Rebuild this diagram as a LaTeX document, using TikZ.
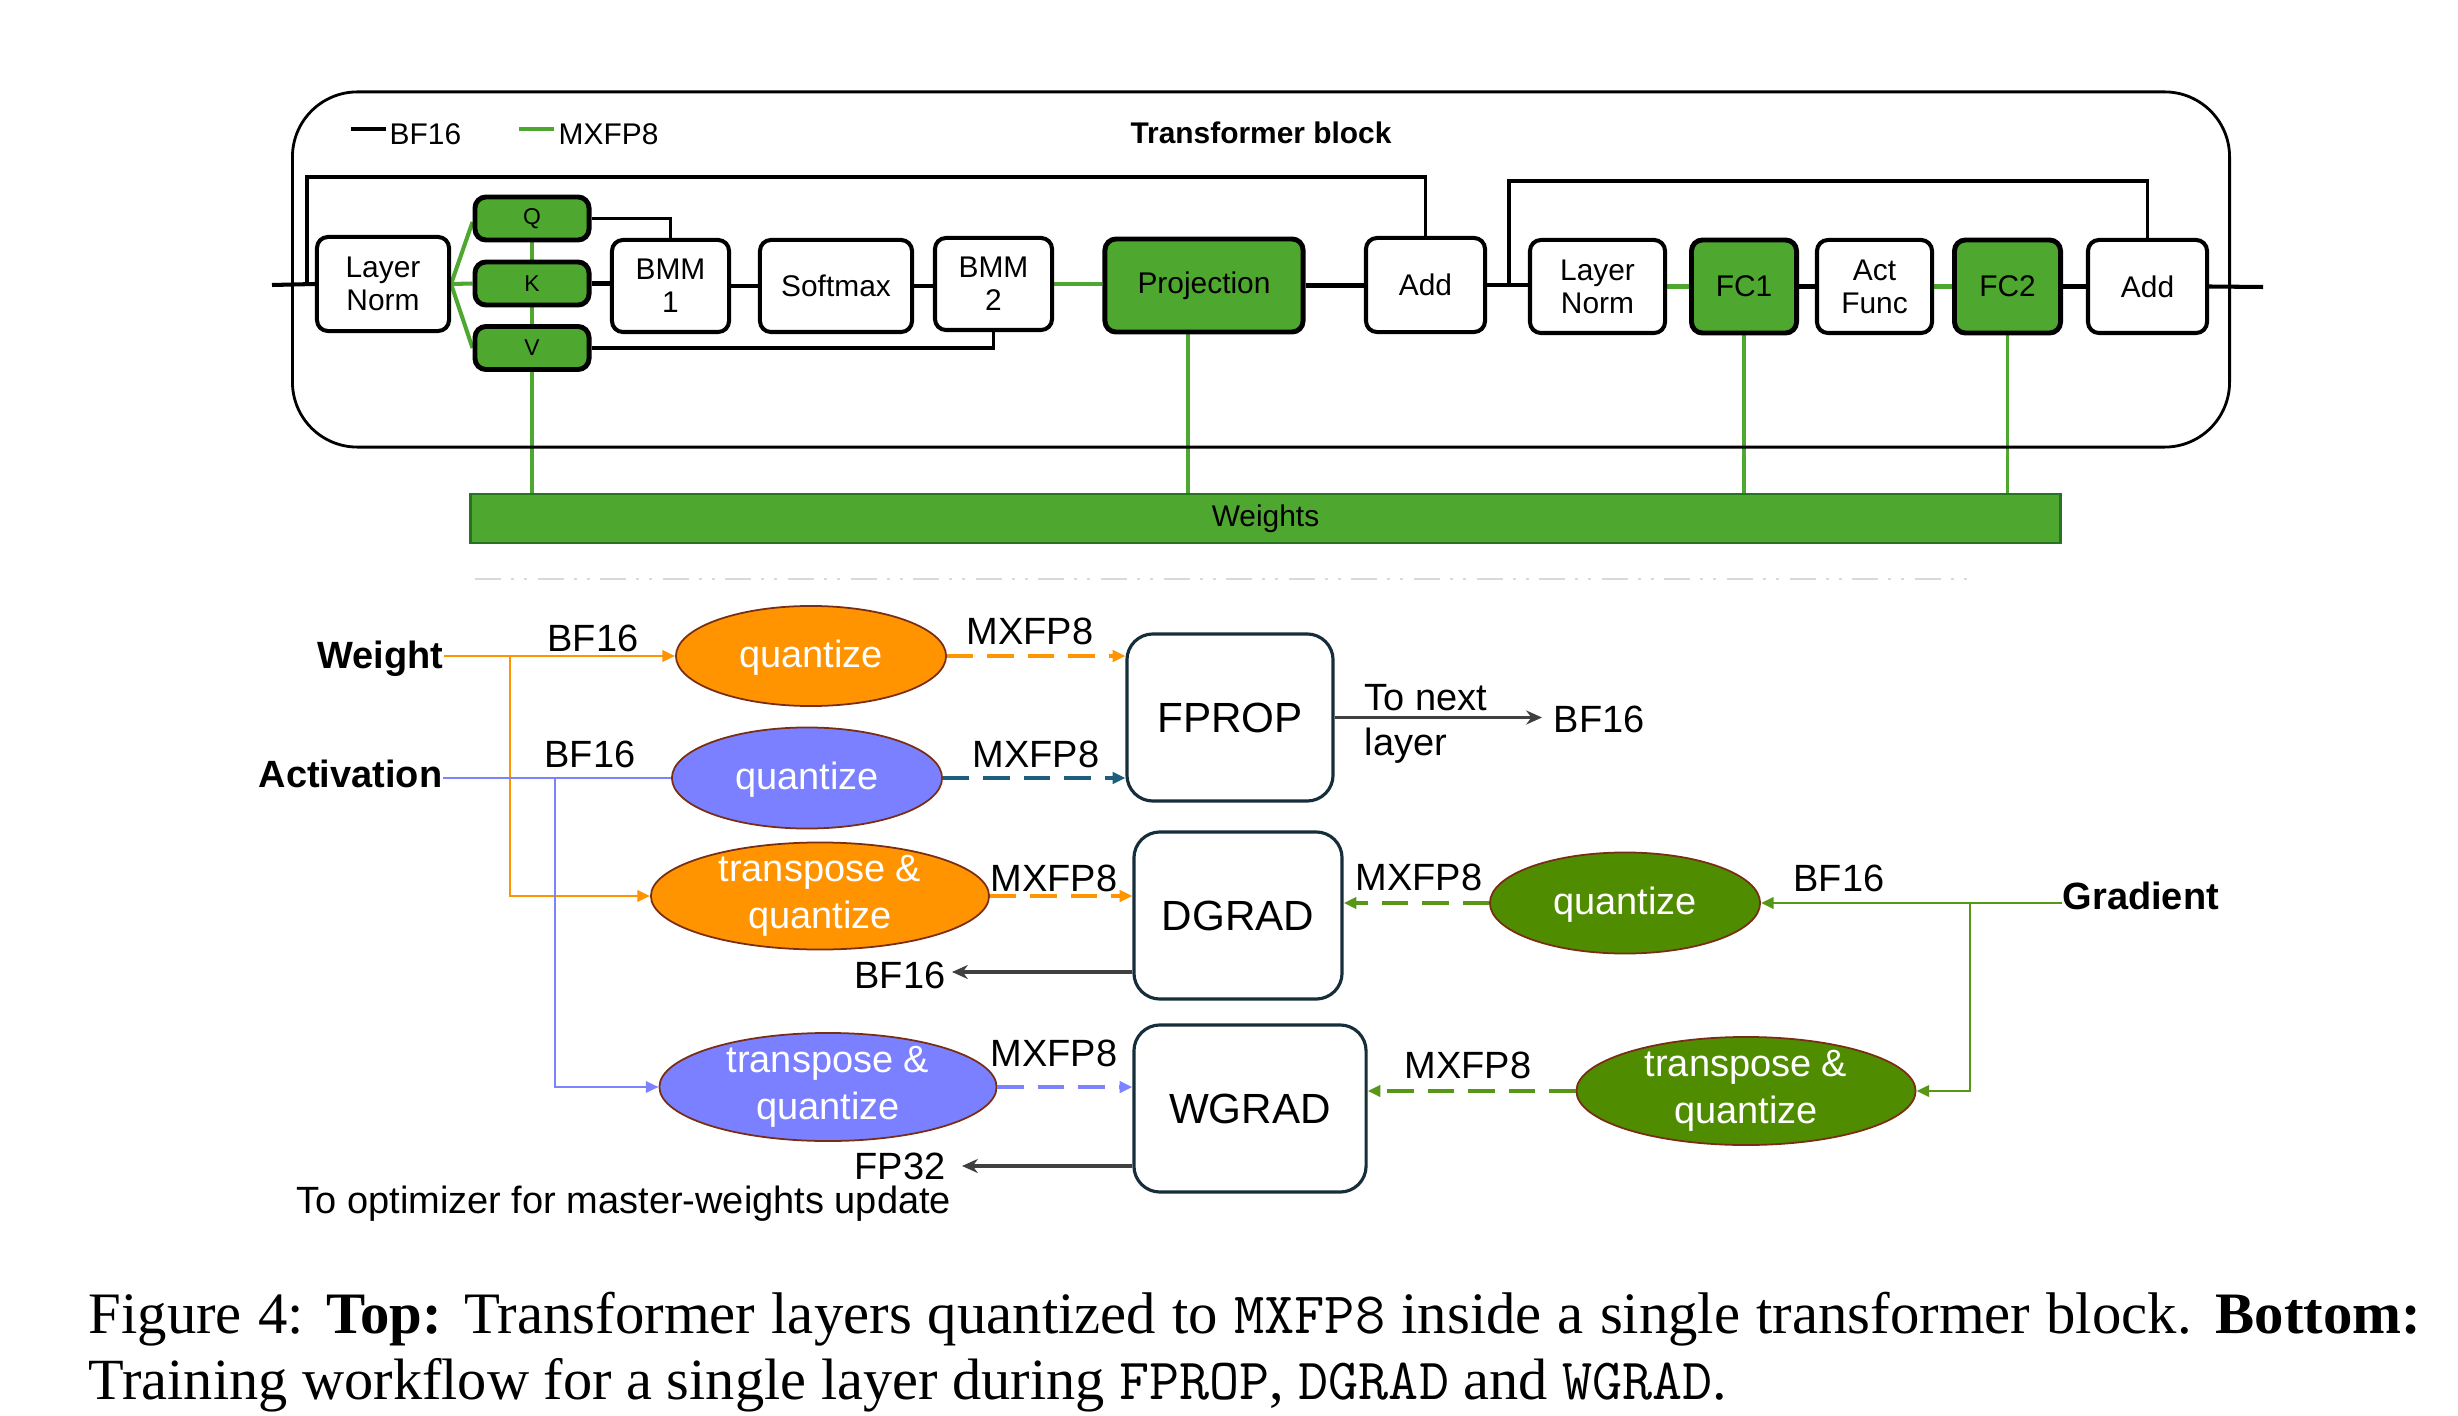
\documentclass[tikz,border=0pt]{standalone}
\usepackage{fontspec}
\setmainfont{Liberation Sans}
\newfontfamily\capserif{Liberation Serif}
\usetikzlibrary{shapes.geometric,arrows.meta}
\definecolor{tgreen}{RGB}{78,167,46}
\definecolor{wborder}{RGB}{40,115,35}
\definecolor{oran}{RGB}{255,147,0}
\definecolor{ebord}{RGB}{120,45,20}
\definecolor{bfill}{RGB}{122,128,255}
\definecolor{bln}{RGB}{125,130,255}
\definecolor{tealc}{RGB}{30,93,125}
\definecolor{gfill}{RGB}{80,140,0}
\definecolor{gln}{RGB}{88,150,22}
\definecolor{navyc}{RGB}{22,45,58}
\definecolor{darkg}{RGB}{64,64,64}
\definecolor{sepgray}{RGB}{217,217,217}
\pgfdeclarelayer{bg}
\pgfsetlayers{bg,main}
\begin{document}
\begin{tikzpicture}[x=0.01cm,y=-0.01cm,
  >={Triangle[length=3.6pt,width=3.2pt]},
  tbox/.style={draw=black,line width=1.15pt,fill=white,rounded corners=0.11cm,inner sep=0pt,align=center,font=\fontsize{8.5}{9.4}\selectfont},
  gbox/.style={tbox,fill=tgreen,line width=1.4pt},
  qbox/.style={gbox,minimum width=1.14cm,minimum height=0.43cm,font=\fontsize{6.5}{7}\selectfont},
  bk/.style={draw=black,line width=1.15pt},
  bk2/.style={draw=black,line width=0.95pt},
  gl/.style={draw=tgreen,line width=1.15pt},
  glv/.style={draw=tgreen,line width=0.9pt},
  lbl/.style={inner sep=0pt,font=\fontsize{10.8}{12.5}\selectfont},
  blbl/.style={lbl,font=\fontsize{10.8}{12.5}\selectfont\bfseries},
  ell/.style={ellipse,draw=ebord,line width=0.5pt,inner sep=0pt},
  etext/.style={inner sep=0pt,text=white,align=center,font=\fontsize{10.8}{13.4}\selectfont},
  opbox/.style={draw=navyc,line width=0.9pt,rounded corners=0.26cm,inner sep=0pt,minimum height=1.67cm,font=\fontsize{12}{14}\selectfont},
  oline/.style={draw=oran,line width=0.8pt},
  bline/.style={draw=bln,line width=0.7pt},
  gline/.style={draw=gln,line width=0.8pt},
  dsh/.style={line width=1pt,dash pattern=on 7.5pt off 4pt},
  outarr/.style={draw=darkg,line width=0.9pt,-{Stealth[length=4.5pt,width=4pt]}}
]
\useasboundingbox (0,0) rectangle (2458,1416);

%================ TOP =================
\node[draw=black,line width=0.8pt,rounded corners=0.65cm,minimum width=19.36cm,minimum height=3.55cm] (block) at (1261,269.5) {};

% legend
\coordinate (lgA) at (351,129);
\coordinate (lgB) at (386,129);
\coordinate (lgC) at (519,129);
\coordinate (lgD) at (554,129);
\draw[bk] (lgA) -- (lgB);
\draw[gl] (lgC) -- (lgD);
\node[inner sep=0pt,anchor=west,font=\fontsize{8.5}{10}\selectfont] (lgbf) at (389,134) {BF16};
\node[inner sep=0pt,anchor=west,font=\fontsize{8.5}{10}\selectfont] (lgmx) at (558,134) {MXFP8};
\node[inner sep=0pt,font=\fontsize{8.5}{10}\selectfont\bfseries] (title) at (1261,133) {Transformer block};

% boxes
\node[tbox,minimum width=1.32cm,minimum height=0.94cm] (ln1) at (383,284) {Layer\\Norm};
\node[qbox] (q) at (532,218.5) {Q};
\node[qbox] (k) at (532,283.5) {K};
\node[qbox] (v) at (532,348) {V};
\node[tbox,minimum width=1.17cm,minimum height=0.92cm] (bmm1) at (670.5,286) {BMM\\1};
\node[tbox,minimum width=1.52cm,minimum height=0.92cm] (soft) at (836,286) {Softmax};
\node[tbox,minimum width=1.17cm,minimum height=0.92cm] (bmm2) at (993.5,284) {BMM\\2};
\node[gbox,minimum width=1.98cm,minimum height=0.93cm] (proj) at (1204,285.5) {Projection};
\node[tbox,minimum width=1.19cm,minimum height=0.94cm] (add1) at (1425.5,285) {Add};
\node[tbox,minimum width=1.35cm,minimum height=0.93cm] (ln2) at (1597.5,286.5) {Layer\\Norm};
\node[gbox,minimum width=1.05cm,minimum height=0.93cm] (fc1) at (1744,286.5) {FC1};
\node[tbox,minimum width=1.15cm,minimum height=0.93cm] (act) at (1874.5,286.5) {Act\\Func};
\node[gbox,minimum width=1.06cm,minimum height=0.93cm] (fc2) at (2007.5,286.5) {FC2};
\node[tbox,minimum width=1.19cm,minimum height=0.93cm] (add2) at (2147.5,286.5) {Add};

\node[draw=wborder,fill=tgreen,line width=0.8pt,minimum width=15.89cm,minimum height=0.49cm,inner sep=0pt,font=\fontsize{8.5}{10}\selectfont] (wts) at (1265.5,518.5) {Weights};

\coordinate (in) at (272,285);
\coordinate (out) at (2263,287);
\coordinate (r1) at (307,285);
\coordinate (r1top) at (307,177);
\coordinate (r2) at (1509,286.5);
\coordinate (r2top) at (1509,181);
\coordinate (pv) at (1188,0);

\begin{pgfonlayer}{bg}
\draw[bk] (in) -- (ln1.west);
\draw[bk2] (r1) -- (r1top) -| (add1.north);
\draw[gl] (ln1.east) -- ([yshift=-1pt]q.west);
\draw[gl] (ln1.east) -- (k.west);
\draw[gl] (ln1.east) -- (v.west);
\draw[bk2] (q.east) -| (bmm1.north);
\draw[bk] (k.east) -- (k.east -| bmm1.west);
\draw[bk2] (v.east) -| (bmm2.south);
\draw[bk] (bmm1.east) -- (soft.west);
\draw[bk] (soft.east) -- (soft.east -| bmm2.west);
\draw[gl] (bmm2.east) -- (bmm2.east -| proj.west);
\draw[bk] (proj.east) -- (proj.east -| add1.west);
\draw[bk] (add1.east) -- (add1.east -| ln2.west);
\draw[bk2] (r2) -- (r2top) -| (add2.north);
\draw[gl] (ln2.east) -- (fc1.west);
\draw[bk] (fc1.east) -- (act.west);
\draw[gl] (act.east) -- (fc2.west);
\draw[bk] (fc2.east) -- (add2.west);
\draw[bk] (add2.east) -- (out);
\draw[glv] (q.south) -- (q.south |- wts.north);
\draw[glv] (pv |- proj.south) -- (pv |- wts.north);
\draw[glv] (fc1.south) -- (fc1.south |- wts.north);
\draw[glv] (fc2.south) -- (fc2.south |- wts.north);
\end{pgfonlayer}

% separator
\coordinate (sepL) at (475,579);
\coordinate (sepR) at (1969,579);
\draw[sepgray,line width=0.8pt,dash pattern=on 7.4pt off 2.85pt on 0.85pt off 2.85pt on 0.85pt off 3pt] (sepL) -- (sepR);

%================ BOTTOM =================
\node[ell,fill=oran,minimum width=2.70cm,minimum height=1.00cm] (wq) at (811,656) {};
\node[etext] (wqt) at ([yshift=-0.5pt]wq.center) {quantize};
\node[ell,fill=bfill,minimum width=2.70cm,minimum height=1.01cm] (aq) at (807,778) {};
\node[etext] (aqt) at ([yshift=-0.5pt]aq.center) {quantize};
\node[ell,fill=oran,minimum width=3.38cm,minimum height=1.07cm] (wt) at (820,896) {};
\node[etext] (wtt) at (wt) {transpose \&\\quantize};
\node[ell,fill=bfill,minimum width=3.37cm,minimum height=1.08cm] (at) at (828,1087) {};
\node[etext] (att) at (at) {transpose \&\\quantize};
\node[ell,fill=gfill,minimum width=2.70cm,minimum height=1.01cm] (gq) at (1625,903) {};
\node[etext] (gqt) at ([yshift=-0.5pt]gq.center) {quantize};
\node[ell,fill=gfill,minimum width=3.39cm,minimum height=1.08cm] (gt) at (1746,1091) {};
\node[etext] (gtt) at (gt) {transpose \&\\quantize};

\node[opbox,minimum width=2.06cm] (fprop) at (1230,717.5) {FPROP};
\node[opbox,minimum width=2.08cm] (dgrad) at (1238,915.5) {DGRAD};
\node[opbox,minimum width=2.32cm] (wgrad) at (1250,1108.5) {WGRAD};

\node[blbl,anchor=base east] (weight) at (444,669) {Weight};
\node[blbl,anchor=base east] (activ) at (443,787) {Activation};
\node[blbl,anchor=base west] (grad) at (2062,909) {Gradient};

\node[lbl,anchor=base] (bfw) at (593,651) {BF16};
\node[lbl,anchor=base] (bfa) at (590,767) {BF16};
\node[lbl,anchor=base] (bfg) at (1839,891) {BF16};
\node[lbl,anchor=base] (mx1) at (1030,645) {MXFP8};
\node[lbl,anchor=base] (mx2) at (1036,767) {MXFP8};
\node[lbl,anchor=base] (mx3) at (1054,891) {MXFP8};
\node[lbl,anchor=base] (mx4) at (1054,1066) {MXFP8};
\node[lbl,anchor=base] (mx5) at (1419,890) {MXFP8};
\node[lbl,anchor=base] (mx6) at (1468,1078) {MXFP8};
\node[lbl,anchor=base west] (tn1) at (1364,710) {To next};
\node[lbl,anchor=base west] (tn2) at (1364,755) {layer};
\node[lbl,anchor=base west] (bfo) at (1553,732) {BF16};
\node[lbl,anchor=base east] (bfd) at (946,988) {BF16};
\node[lbl,anchor=base east] (fp32) at (946,1179) {FP32};
\node[lbl,anchor=base west] (topt) at (296,1213) {To optimizer for master-weights update};

\coordinate (wb) at (510,656);
\coordinate (ab) at (555,778);
\coordinate (gb) at (1970,903);
\coordinate (fo) at (1542,717.5);
\coordinate (dout) at (952,972);
\coordinate (wout) at (962,1166);

\begin{pgfonlayer}{bg}
\draw[oline,->] (weight.east |- wq.west) -- (wq.west);
\draw[oline,->] (wb) |- (wt.west);
\draw[bline] (activ.east |- aq.west) -- (aq.west);
\draw[bline,->] (ab) |- (at.west);
\draw[gline,->] (grad.west |- gq.east) -- (gq.east);
\draw[gline,->] (gb) |- (gt.east);
\end{pgfonlayer}

\draw[oran,dsh,->] (wq.east) -- (wq.east -| fprop.west);
\draw[tealc,dsh,->] (aq.east) -- (aq.east -| fprop.west);
\draw[oran,dsh,->] (wt.east) -- (wt.east -| dgrad.west);
\draw[bln,dsh,->] (at.east) -- (at.east -| wgrad.west);
\draw[gln,dsh,->] (gq.west) -- (gq.west -| dgrad.east);
\draw[gln,dsh,->] (gt.west) -- (gt.west -| wgrad.east);

\draw[outarr] (fprop.east) -- (fo);
\draw[outarr] (dout -| dgrad.west) -- (dout);
\draw[outarr] (wout -| wgrad.west) -- (wout);

%================ CAPTION =================
\node[inner sep=0pt,anchor=base west] (cap1) at (88,1333) {\capserif\fontsize{16.7}{20}\selectfont\makebox[23.31cm][s]{Figure 4: \textbf{Top:} Transformer layers quantized to \texttt{MXFP8} inside a single transformer block. \textbf{Bottom:}}};
\node[inner sep=0pt,anchor=base west] (cap2) at (88,1399) {\capserif\fontsize{16.6}{20}\selectfont Training workflow for a single layer during \texttt{FPROP}, \texttt{DGRAD} and \texttt{WGRAD}.};
\end{tikzpicture}
\end{document}
